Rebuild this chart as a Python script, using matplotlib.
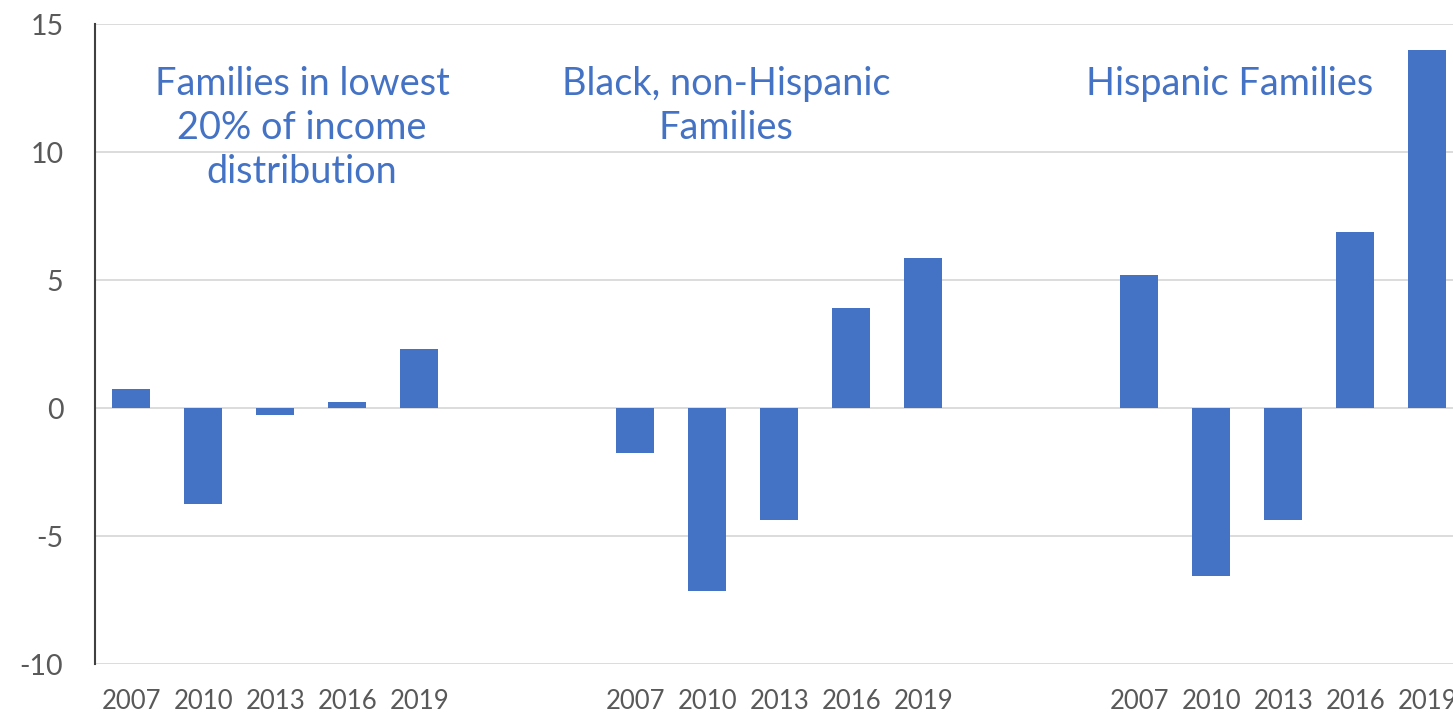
import matplotlib
matplotlib.use("Agg")
import matplotlib.pyplot as plt

plt.rcParams["font.family"] = ["Lato", "DejaVu Sans"]

# Change by year for each population group
years = ["2007", "2010", "2013", "2016", "2019"]
group_titles = [
    ["Families in lowest", "20% of income", "distribution"],
    ["Black, non-Hispanic", "Families"],
    ["Hispanic Families"],
]
lowest_20pct = [0.77, -3.72, -0.27, 0.23, 2.32]
black_non_hispanic = [-1.73, -7.15, -4.35, 3.90, 5.87]
hispanic = [5.22, -6.54, -4.37, 6.90, 14.00]
series = [lowest_20pct, black_non_hispanic, hispanic]

y_ticks = [-10, -5, 0, 5, 10, 15]
y_tick_labels = ["-10", "-5", "0", "5", "10", "15"]

BAR = "#4472C4"
GRID = "#D9D9D9"
TICK = "#595959"

W, H = 1453, 714
fig = plt.figure(figsize=(W / 100, H / 100), dpi=100)
left_px, right_px, top_px, bottom_px = 95.3, 1463.3, 24.3, 664.3
ax = fig.add_axes([left_px / W, 1 - bottom_px / H,
                   (right_px - left_px) / W, (bottom_px - top_px) / H])

slots_per_group = len(years) + 2
positions, labels = [], []
for g, vals in enumerate(series):
    xs = [g * slots_per_group + i for i in range(len(years))]
    ax.bar(xs, vals, width=0.53, color=BAR, zorder=3)
    positions += xs
    labels += years

ax.set_xlim(-0.5, 2 * slots_per_group + len(years) - 0.5)
ax.set_ylim(-10, 15)
ax.set_xticks(positions)
ax.set_xticklabels(labels)
ax.set_yticks(y_ticks)
ax.set_yticklabels(y_tick_labels)

ax.yaxis.grid(True, color=GRID, linewidth=1.3, zorder=0)
ax.set_axisbelow(True)
for side in ("top", "right", "bottom"):
    ax.spines[side].set_visible(False)
ax.spines["left"].set_color("#404040")
ax.spines["left"].set_linewidth(1.5)
ax.spines["left"].set_zorder(4)

ax.tick_params(axis="both", length=0)
ax.tick_params(axis="y", labelsize=20.5, labelcolor=TICK, pad=23)
ax.tick_params(axis="x", labelsize=18.5, labelcolor=TICK, pad=18)

# Group headings, one text per line, positioned in pixel units
title_centers = [302, 726, 1230]
baselines = [95, 139, 183]
for cx, lines in zip(title_centers, group_titles):
    for k, line in enumerate(lines):
        fig.text(cx / W, 1 - baselines[k] / H, line, ha="center", va="baseline",
                 fontsize=27.3, color=BAR)

fig.savefig("out.png", dpi=100)
